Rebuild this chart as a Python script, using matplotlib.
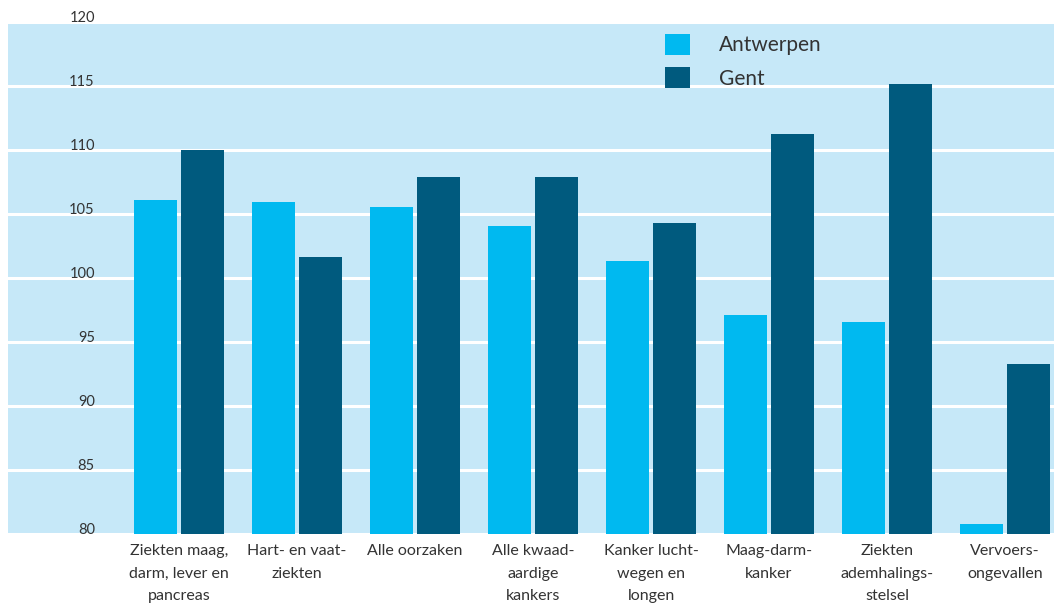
import numpy as np
import matplotlib.pyplot as plt
from matplotlib.patches import Patch

categories = [
    "Ziekten maag,\ndarm, lever en\npancreas",
    "Hart- en vaat-\nziekten",
    "Alle oorzaken",
    "Alle kwaad-\naardige\nkankers",
    "Kanker lucht-\nwegen en\nlongen",
    "Maag-darm-\nkanker",
    "Ziekten\nademhalings-\nstelsel",
    "Vervoers-\nongevallen",
]
antwerpen = [106.1, 105.9, 105.55, 104.1, 101.35, 97.1, 96.6, 80.8]
gent = [110.0, 101.65, 107.9, 107.9, 104.3, 111.25, 115.15, 93.25]
yticks = [80, 85, 90, 95, 100, 105, 110, 115, 120]

c_antw = "#00B9F0"
c_gent = "#005A7E"
bg = "#C6E8F8"

plt.rcParams['font.family'] = ['Lato', 'DejaVu Sans']

fig = plt.figure(figsize=(10.54, 6.09), dpi=100)
ax = fig.add_axes([8 / 1054, 75 / 609, 1046 / 1054, 512 / 609])
ax.set_facecolor(bg)

x = np.arange(len(categories))
w = 0.364
off = 0.199
ax.bar(x - off, [v - 80 for v in antwerpen], w, bottom=80, color=c_antw, zorder=3)
ax.bar(x + off, [v - 80 for v in gent], w, bottom=80, color=c_gent, zorder=3)

ax.set_xlim(-1.449, 7.415)
ax.set_ylim(80, 120)
ax.set_yticks(yticks)
ax.set_yticklabels([str(t) for t in yticks], fontsize=10.5, color="#333333")
for lbl in ax.get_yticklabels():
    lbl.set_verticalalignment('baseline')
ax.tick_params(axis='y', length=0, pad=-62.5)
ax.set_xticks(x)
ax.set_xticklabels(categories, fontsize=11.5, color="#333333", linespacing=1.8)
ax.tick_params(axis='x', length=0, pad=7)

ax.grid(axis='y', color='white', linewidth=2.2, zorder=1)
ax.set_axisbelow(True)
for s in ax.spines.values():
    s.set_visible(False)

handles = [Patch(facecolor=c_antw, label="Antwerpen"),
           Patch(facecolor=c_gent, label="Gent")]
ax.legend(handles=handles, loc='upper left', bbox_to_anchor=(0.628, 0.977),
          frameon=False, fontsize=15, handlelength=1.2, handleheight=1.2,
          handletextpad=1.4, labelspacing=0.55, borderpad=0, borderaxespad=0,
          labelcolor="#333333")

fig.savefig("out.png", dpi=100)
